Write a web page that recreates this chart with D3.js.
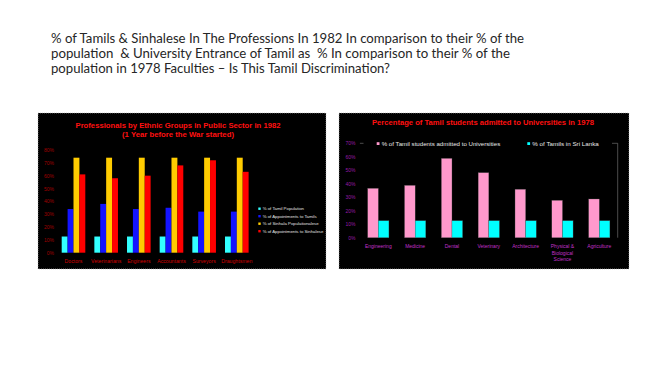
<!DOCTYPE html>
<html>
<head>
<meta charset="utf-8">
<script src="https://cdn.jsdelivr.net/npm/d3@7"></script>
<style>
  body { margin: 0; background: #fff; }
  svg { display: block; }
</style>
</head>
<body>
<div id="slide"></div>
<script>
// heading lines of the slide
var headingLines = [
  "% of Tamils & Sinhalese In The Professions In 1982 In comparison to their % of the",
  "population  & University Entrance of Tamil as  % In comparison to their % of the",
  "population in 1978 Faculties \u2013 Is This Tamil Discrimination?"
];

// left chart: professions 1982
var profCategories = ["Doctors", "Veterinarians", "Engineers", "Accountants", "Surveyors", "Draughtsmen"];
var tamilPopulation = [12.6, 12.6, 12.6, 12.6, 12.6, 12.6];
var tamilAppointments = [34, 38, 34, 35, 32, 32];
var sinhalaPopulation = [74, 74, 74, 74, 74, 74];
var sinhalaAppointments = [61, 58, 60, 68, 72, 63];
var profSeries = ["% of Tamil Population", "% of Appointments to Tamils",
                  "% of Sinhala Populationalese", "% of Appointments to Sinhalese"];
var profTicks = [0, 10, 20, 30, 40, 50, 60, 70, 80];

// right chart: university admissions 1978
var facultyCategories = ["Engineering", "Medicine", "Dental", "Veterinary", "Architecture",
                         "Physical &\nBiological\nScience", "Agriculture"];
var tamilAdmitted = [36.6, 38.8, 58.8, 48.2, 35.9, 27.7, 28.7];
var tamilShare = [12.6, 12.6, 12.6, 12.6, 12.6, 12.6, 12.6];
var facultySeries = ["% of Tamil students admitted to Universities", "% of Tamils in Sri Lanka"];
var facultyTicks = [0, 10, 20, 30, 40, 50, 60, 70];

var svg = d3.select("#slide").append("svg")
    .attr("width", 667)
    .attr("height", 375);

// slide heading
svg.selectAll(".heading")
    .data(headingLines)
  .enter().append("text")
    .attr("class", "heading")
    .attr("x", 51)
    .attr("y", function(d, i) { return 42.5 + i * 15; })
    .attr("textLength", function(d, i) { return [473, 459, 339][i]; })
    .attr("lengthAdjust", "spacingAndGlyphs")
    .style("font-family", "Lato, 'Open Sans', sans-serif")
    .style("font-size", "13.5px")
    .style("fill", "#262626")
    .style("white-space", "pre")
    .text(function(d) { return d; });

var font = "'Liberation Sans', Arial, sans-serif";

// ---------- left chart ----------
var left = svg.append("g");

left.append("rect")
    .attr("x", 38).attr("y", 113)
    .attr("width", 288).attr("height", 156)
    .attr("fill", "#000")
    .attr("stroke", "#bbb")
    .attr("stroke-width", 0.6)
    .attr("stroke-dasharray", "1,1");

left.selectAll(".ptitle")
    .data(["Professionals by Ethnic Groups in Public Sector in 1982", "(1 Year before the War started)"])
  .enter().append("text")
    .attr("x", 178)
    .attr("y", function(d, i) { return 127.5 + i * 9; })
    .attr("text-anchor", "middle")
    .attr("textLength", function(d, i) { return i ? 112 : 205; })
    .attr("lengthAdjust", "spacingAndGlyphs")
    .style("font-family", font)
    .style("font-weight", "bold")
    .style("font-size", "7px")
    .style("fill", "#ff1010")
    .text(function(d) { return d; });

var px = d3.scaleBand()
    .domain(profCategories)
    .range([57.17, 253.13])
    .paddingInner(0.277)
    .paddingOuter(0.1385);

var pxInner = d3.scaleBand()
    .domain(d3.range(4))
    .range([0, px.bandwidth()]);

var py = d3.scaleLinear()
    .domain([0, 80])
    .range([252.7, 150]);

var profColors = ["#33ffff", "#1414ff", "#ffcc00", "#ff0000"];
var profValues = [tamilPopulation, tamilAppointments, sinhalaPopulation, sinhalaAppointments];

var pAxis = left.append("g")
    .attr("transform", "translate(54,0)")
    .call(d3.axisLeft(py).tickValues(profTicks).tickSize(0).tickPadding(0)
      .tickFormat(function(d) { return d + "%"; }));
pAxis.select(".domain").remove();
pAxis.selectAll("text")
    .style("font-family", font)
    .style("font-size", "5px")
    .style("fill", "#a00000");

profCategories.forEach(function(c, i) {
  left.selectAll(null)
      .data(profValues.map(function(s) { return s[i]; }))
    .enter().append("rect")
      .attr("x", function(d, j) { return px(c) + pxInner(j); })
      .attr("y", function(d) { return py(d); })
      .attr("width", pxInner.bandwidth())
      .attr("height", function(d) { return py(0) - py(d); })
      .attr("fill", function(d, j) { return profColors[j]; });
});

left.selectAll(".pcat")
    .data(profCategories)
  .enter().append("text")
    .attr("x", function(d) { return px(d) + px.bandwidth() / 2; })
    .attr("y", 262.5)
    .attr("text-anchor", "middle")
    .style("font-family", font)
    .style("font-size", "5.2px")
    .style("fill", "#d00000")
    .text(function(d) { return d; });

var pLegend = left.selectAll(".plegend")
    .data(profSeries)
  .enter().append("g")
    .attr("transform", function(d, i) { return "translate(258.3," + (208.7 + i * 7.5) + ")"; });
pLegend.append("rect")
    .attr("x", 0).attr("y", -1.2)
    .attr("width", 2.4).attr("height", 2.4)
    .attr("fill", function(d, i) { return profColors[i]; });
pLegend.append("text")
    .attr("x", 4.4)
    .attr("y", 1.5)
    .style("font-family", font)
    .style("font-size", "4.3px")
    .style("fill", "#e0e0e0")
    .text(function(d) { return d; });

// ---------- right chart ----------
var right = svg.append("g");

right.append("rect")
    .attr("x", 339).attr("y", 113)
    .attr("width", 290).attr("height", 156)
    .attr("fill", "#000")
    .attr("stroke", "#bbb")
    .attr("stroke-width", 0.6)
    .attr("stroke-dasharray", "1,1");

right.append("text")
    .attr("x", 483)
    .attr("y", 125.2)
    .attr("text-anchor", "middle")
    .attr("textLength", 222)
    .attr("lengthAdjust", "spacingAndGlyphs")
    .style("font-family", font)
    .style("font-weight", "bold")
    .style("font-size", "7px")
    .style("fill", "#ff1010")
    .text("Percentage of Tamil students admitted to Universities in 1978");

var fx = d3.scaleBand()
    .domain(facultyCategories)
    .range([359.9, 617.7])
    .paddingInner(0.424)
    .paddingOuter(0.212);

var fxInner = d3.scaleBand()
    .domain(d3.range(2))
    .range([0, fx.bandwidth()]);

var fy = d3.scaleLinear()
    .domain([0, 70])
    .range([237.7, 143.3]);

var facultyColors = ["#ff99cc", "#00ffff"];
var facultyValues = [tamilAdmitted, tamilShare];

// plot area border (top and right)
right.append("path")
    .attr("d", "M" + fx.range()[0] + "," + fy(70) + "H617.7V" + fy(0))
    .attr("fill", "none")
    .attr("stroke", "#808080")
    .attr("stroke-width", 0.6);

var fAxis = right.append("g")
    .attr("transform", "translate(355.5,0)")
    .call(d3.axisLeft(fy).tickValues(facultyTicks).tickSize(0).tickPadding(0)
      .tickFormat(function(d) { return d + "%"; }));
fAxis.select(".domain").remove();
fAxis.selectAll("text")
    .style("font-family", font)
    .style("font-size", "5px")
    .style("fill", "#9a1aa6");

facultyCategories.forEach(function(c, i) {
  right.selectAll(null)
      .data(facultyValues.map(function(s) { return s[i]; }))
    .enter().append("rect")
      .attr("x", function(d, j) { return fx(c) + fxInner(j); })
      .attr("y", function(d) { return fy(d); })
      .attr("width", fxInner.bandwidth())
      .attr("height", function(d) { return fy(0) - fy(d); })
      .attr("fill", function(d, j) { return facultyColors[j]; })
      .attr("stroke", "#555")
      .attr("stroke-width", 0.3);
});

var fCat = right.selectAll(".fcat")
    .data(facultyCategories)
  .enter().append("text")
    .attr("text-anchor", "middle")
    .style("font-family", font)
    .style("font-size", "5px")
    .style("fill", "#c030c8");
fCat.selectAll("tspan")
    .data(function(d) { return d.split("\n").map(function(t) { return {cat: d, t: t}; }); })
  .enter().append("tspan")
    .attr("x", function(d) { return fx(d.cat) + fx.bandwidth() / 2; })
    .attr("y", function(d, i) { return 247.8 + i * 6.7; })
    .text(function(d) { return d.t; });

// legend box sits over the top border
right.append("rect")
    .attr("x", 363.5).attr("y", 138)
    .attr("width", 248.5).attr("height", 11)
    .attr("fill", "#000");

var fLegendX = [376.7, 527.3];
var fLegend = right.selectAll(".flegend")
    .data(facultySeries)
  .enter().append("g")
    .attr("transform", function(d, i) { return "translate(" + fLegendX[i] + ",143.6)"; });
fLegend.append("rect")
    .attr("x", 0).attr("y", -1.4)
    .attr("width", 2.8).attr("height", 2.8)
    .attr("fill", function(d, i) { return facultyColors[i]; });
fLegend.append("text")
    .attr("x", 5)
    .attr("y", 2)
    .attr("textLength", function(d, i) { return i ? 66.5 : 118.5; })
    .attr("lengthAdjust", "spacingAndGlyphs")
    .style("font-family", font)
    .style("font-size", "5.8px")
    .style("fill", "#e8e8e8")
    .text(function(d) { return d; });
</script>
</body>
</html>
